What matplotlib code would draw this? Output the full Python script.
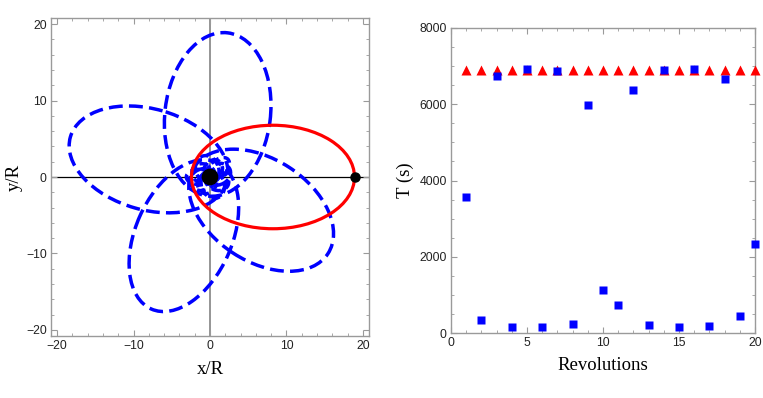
import numpy as np
import matplotlib
matplotlib.use("Agg")
import matplotlib.pyplot as plt
from matplotlib.patches import Ellipse, Circle
from matplotlib.ticker import MultipleLocator

# ---------------- data ----------------
# orbit lobes: apoapsis direction (deg), apoapsis distance (x/R), semi-minor axis (x/R); focus at origin
lobe_angle = [83.0, 164.0, 246.0, 327.0]
lobe_apo = [19.0, 19.0, 18.9, 18.4]
lobe_minor = [6.9, 6.6, 6.3, 6.7]

# tangled small loops near the planet
small_angle = [20, 65, 110, 155, 200, 245, 290, 335, 45, 180]
small_apo = [2.8, 2.4, 2.9, 2.5, 2.7, 2.3, 2.9, 2.6, 3.3, 3.1]
small_minor = [1.4, 1.2, 1.5, 1.3, 1.4, 1.2, 1.5, 1.3, 1.1, 1.0]

# reference (unperturbed) orbit
ref_angle = 0.0
ref_apo = 18.9
ref_minor = 6.77
sat_pos = (19.0, 0.0)
planet_radius = 1.0

# periods
revolutions = list(range(1, 21))
T_ref = [6900] * 20
T_pert = [3560, 350, 6750, 170, 6920, 150, 6880, 236, 5980, 1138,
          744, 6370, 210, 6890, 150, 6920, 184, 6660, 455, 2322]

# ---------------- figure ----------------
fig = plt.figure(figsize=(7.63, 3.98), dpi=100)
ax1 = fig.add_axes([51/763, (398-336)/398, (369-51)/763, (336-18)/398])
ax2 = fig.add_axes([451/763, (398-333)/398, (755-451)/763, (333-28)/398])

frame_col = "#9a9a9a"
tick_font = dict(family="Liberation Sans", size=8.8)
lab_font = dict(family="Liberation Serif", size=13.5)


def style(ax):
    for s in ax.spines.values():
        s.set_color(frame_col)
        s.set_linewidth(1.0)
    ax.tick_params(which="both", direction="in", top=True, right=True,
                   color=frame_col, labelcolor="#222222", pad=3)
    ax.tick_params(which="major", length=4, width=0.8)
    ax.tick_params(which="minor", length=2.3, width=0.6)
    for lab in ax.get_xticklabels() + ax.get_yticklabels():
        lab.set_fontfamily(tick_font["family"])
        lab.set_fontsize(tick_font["size"])


def focus_ellipse(theta, apo, b, **kw):
    a = (apo**2 + b**2) / (2 * apo)
    c = apo - a
    t = np.deg2rad(theta)
    return Ellipse((c * np.cos(t), c * np.sin(t)), 2 * a, 2 * b, angle=theta,
                   fill=False, **kw)

# ---- left panel ----
ax1.set_xlim(-20.8, 20.8)
ax1.set_ylim(-20.8, 20.8)
ax1.axvline(0, color="#8c8c8c", lw=1.3, zorder=1)
ax1.axhline(0, color="black", lw=0.9, zorder=1)

dash = (0, (4, 1.8))
for th, ra, b in zip(lobe_angle, lobe_apo, lobe_minor):
    ax1.add_patch(focus_ellipse(th, ra, b, edgecolor="#0000ff", lw=2.5,
                                linestyle=dash, zorder=3))
for th, ra, b in zip(small_angle, small_apo, small_minor):
    ax1.add_patch(focus_ellipse(th, ra, b, edgecolor="#0000ff", lw=2.5,
                                linestyle=(0, (2.5, 1.5)), zorder=3))

ax1.add_patch(focus_ellipse(ref_angle, ref_apo, ref_minor, edgecolor="#ff0000",
                            lw=2.3, zorder=4))
ax1.add_patch(Circle((0, 0), planet_radius, color="black", zorder=5))
ax1.plot([sat_pos[0]], [sat_pos[1]], "o", color="black", ms=6.5, zorder=6,
         clip_on=False)

ax1.xaxis.set_minor_locator(MultipleLocator(2))
ax1.yaxis.set_minor_locator(MultipleLocator(2))
ax1.set_xticks([-20, -10, 0, 10, 20])
ax1.set_xticklabels(["\u221220", "\u221210", "0", "10", "20"])
ax1.set_yticks([-20, -10, 0, 10, 20])
ax1.set_yticklabels(["\u221220", "\u221210", "0", "10", "20"])
style(ax1)
ax1.set_xlabel("x/R", fontdict=lab_font, labelpad=6)
ax1.set_ylabel("y/R", fontdict=lab_font, labelpad=2)

# ---- right panel ----
ax2.set_xlim(0, 20)
ax2.set_ylim(0, 8000)
ax2.plot(revolutions, T_ref, "^", color="#ff0000", ms=7.5, mec="none",
         clip_on=False, zorder=3)
ax2.plot(revolutions, T_pert, "s", color="#0000ff", ms=6, mec="none",
         clip_on=False, zorder=4)
ax2.xaxis.set_major_locator(MultipleLocator(5))
ax2.xaxis.set_minor_locator(MultipleLocator(1))
ax2.yaxis.set_major_locator(MultipleLocator(2000))
ax2.yaxis.set_minor_locator(MultipleLocator(500))
style(ax2)
ax2.set_xlabel("Revolutions", fontdict=lab_font, labelpad=6)
ax2.set_ylabel("T (s)", fontdict=lab_font, labelpad=4)

fig.savefig("out.png", dpi=100)
